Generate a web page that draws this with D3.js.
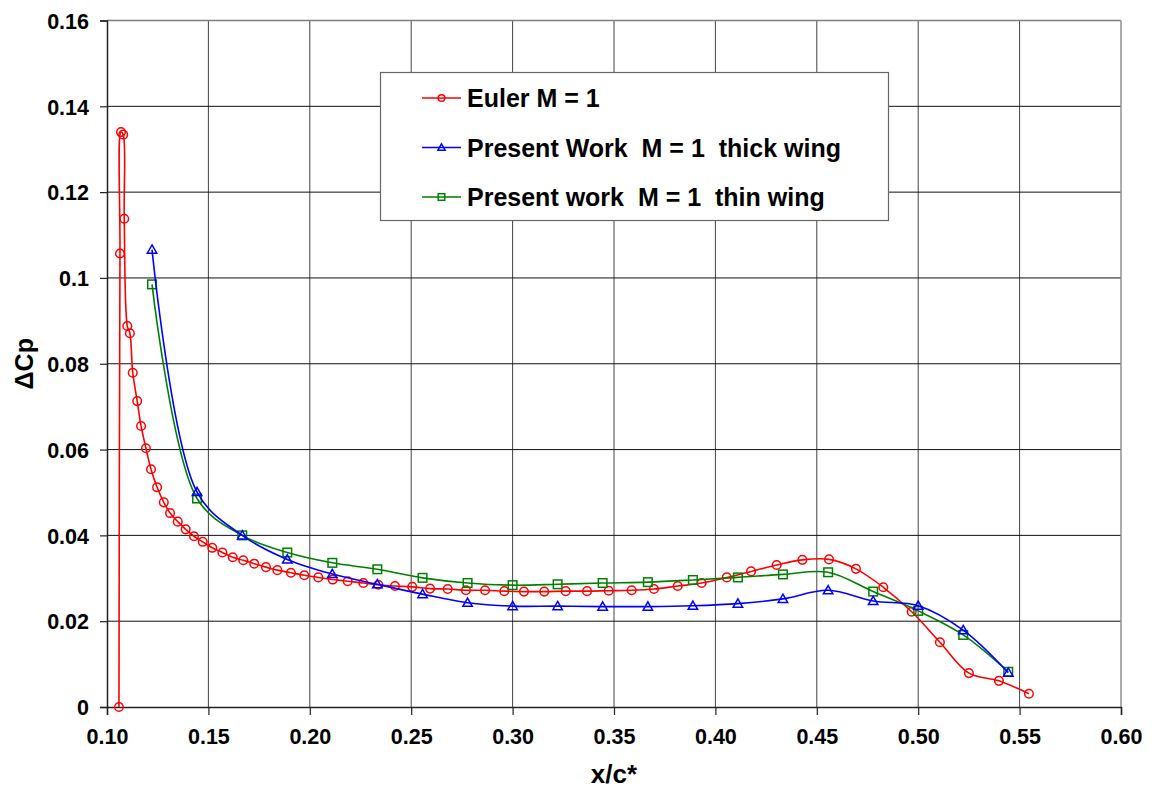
<!DOCTYPE html>
<html>
<head>
<meta charset="utf-8">
<script src="https://cdn.jsdelivr.net/npm/d3@7"></script>
<style>
  body { margin: 0; background: #fff; }
  svg { display: block; }
  text { font-family: "Liberation Sans", Arial, sans-serif; font-weight: bold; fill: #000; white-space: pre; }
</style>
</head>
<body>
<svg id="chart"></svg>
<script>
// Euler M = 1 (red circles)
const eulerX = [0.1059, 0.1064, 0.1069, 0.1080, 0.1085, 0.1100, 0.1113, 0.1127, 0.1149, 0.1168,
  0.1192, 0.1217, 0.1247, 0.1280, 0.1311, 0.1349, 0.1388, 0.1429, 0.1472, 0.1519,
  0.1569, 0.1620, 0.1672, 0.1726, 0.1784, 0.1840, 0.1907, 0.1973, 0.2042, 0.2113,
  0.2187, 0.2264, 0.2338, 0.2420, 0.2505, 0.2593, 0.2680, 0.2770, 0.2864, 0.2959,
  0.3056, 0.3156, 0.3262, 0.3367, 0.3474, 0.3587, 0.3697, 0.3814, 0.3932, 0.4056,
  0.4176, 0.4302, 0.4429, 0.4560, 0.4693, 0.4828, 0.4968, 0.5107, 0.5250, 0.5398, 0.5546];
const eulerY = [0, 0.1057, 0.1340, 0.1334, 0.1138, 0.0888, 0.0871, 0.0779, 0.0713, 0.0655,
  0.0603, 0.0554, 0.0512, 0.0477, 0.0452, 0.0432, 0.0414, 0.0398, 0.0385, 0.0371,
  0.0360, 0.0349, 0.0342, 0.0334, 0.0326, 0.0319, 0.0313, 0.0307, 0.0302, 0.0297,
  0.0293, 0.0289, 0.0285, 0.0282, 0.0280, 0.0276, 0.0275, 0.0272, 0.0272, 0.0270,
  0.0269, 0.0269, 0.0270, 0.0270, 0.0271, 0.0272, 0.0275, 0.0282, 0.0289, 0.0302,
  0.0316, 0.0331, 0.0343, 0.0344, 0.0322, 0.0279, 0.0222, 0.0151, 0.0079, 0.0061, 0.0031];

// Present work stations (same for thick and thin wing)
const workX = [0.1222, 0.1444, 0.1667, 0.1889, 0.2111, 0.2333, 0.2556, 0.2778, 0.3000, 0.3222,
  0.3444, 0.3667, 0.3889, 0.4111, 0.4333, 0.4556, 0.4778, 0.5000, 0.5222, 0.5444];
const thickY = [0.1066, 0.0501, 0.0400, 0.0344, 0.0310, 0.0286, 0.0263, 0.0243, 0.0235, 0.0235,
  0.0234, 0.0234, 0.0236, 0.0241, 0.0252, 0.0272, 0.0247, 0.0236, 0.0179, 0.0080];
const thinY = [0.0985, 0.0486, 0.0400, 0.0360, 0.0336, 0.0321, 0.0301, 0.0289, 0.0284, 0.0286,
  0.0289, 0.0291, 0.0296, 0.0302, 0.0309, 0.0314, 0.0269, 0.0224, 0.0168, 0.0082];

const xTicks = [0.10, 0.15, 0.20, 0.25, 0.30, 0.35, 0.40, 0.45, 0.50, 0.55, 0.60];
const yTicks = [0, 0.02, 0.04, 0.06, 0.08, 0.1, 0.12, 0.14, 0.16];

const series = [
  { name: "Euler M = 1", xs: eulerX, ys: eulerY, color: "#ff0000", marker: "circle" },
  { name: "Present work  M = 1  thin wing", xs: workX, ys: thinY, color: "#008000", marker: "square" },
  { name: "Present Work  M = 1  thick wing", xs: workX, ys: thickY, color: "#0000ff", marker: "triangle" }
];
const legendOrder = [0, 2, 1];

const width = 1155, height = 799;
const margin = { top: 20.5, right: 34, bottom: 92, left: 107 };

const svg = d3.select("#chart").attr("width", width).attr("height", height);

const x = d3.scaleLinear().domain([0.10, 0.60]).range([margin.left, width - margin.right]);
const y = d3.scaleLinear().domain([0, 0.16]).range([height - margin.bottom, margin.top]);

// Grid
svg.append("g").selectAll("line")
  .data(xTicks.slice(1, -1))
  .enter().append("line")
  .attr("x1", d => x(d)).attr("x2", d => x(d))
  .attr("y1", y(0.16)).attr("y2", y(0))
  .attr("stroke", "#444").attr("stroke-width", 1);

svg.append("g").selectAll("line")
  .data(yTicks.slice(1, -1))
  .enter().append("line")
  .attr("x1", x(0.10)).attr("x2", x(0.60))
  .attr("y1", d => y(d)).attr("y2", d => y(d))
  .attr("stroke", "#111").attr("stroke-width", 1);

// Plot border (top/right grey)
svg.append("line").attr("x1", x(0.10)).attr("x2", x(0.60)).attr("y1", y(0.16)).attr("y2", y(0.16))
  .attr("stroke", "#808080").attr("stroke-width", 1.5);
svg.append("line").attr("x1", x(0.60)).attr("x2", x(0.60)).attr("y1", y(0.16)).attr("y2", y(0))
  .attr("stroke", "#909090").attr("stroke-width", 1.5);

// Axes
const xAxis = svg.append("g")
  .attr("transform", `translate(0,${y(0)})`)
  .call(d3.axisBottom(x).tickValues(xTicks).tickFormat(d3.format(".2f")).tickSize(8).tickPadding(14));
const yAxis = svg.append("g")
  .attr("transform", `translate(${x(0.10)},0)`)
  .call(d3.axisLeft(y).tickValues(yTicks).tickFormat(d => d === 0 ? "0" : String(+d.toFixed(2))).tickSize(7).tickPadding(11));

[xAxis, yAxis].forEach(g => {
  g.select(".domain").attr("stroke", "#222").attr("stroke-width", 1.5);
  g.selectAll(".tick line").attr("stroke", "#222").attr("stroke-width", 1.2);
  g.selectAll(".tick text").attr("font-size", "21.5px").attr("font-family", "Liberation Sans, Arial, sans-serif")
    .attr("font-weight", "bold").attr("fill", "#000");
});
yAxis.selectAll(".tick text").attr("dy", "0.36em");

// Axis titles
svg.append("text")
  .attr("x", (x(0.10) + x(0.60)) / 2).attr("y", 783)
  .attr("text-anchor", "middle").attr("font-size", "26px")
  .text("x/c*");

svg.append("text")
  .attr("transform", `translate(33,${(y(0) + y(0.16)) / 2}) rotate(-90)`)
  .attr("text-anchor", "middle").attr("font-size", "25px")
  .text("ΔCp");

// Lines and markers
const line = d3.line().curve(d3.curveCatmullRom.alpha(0.5));

function drawMarker(g, type, cx, cy, color, s) {
  if (type === "circle") {
    g.append("circle").attr("cx", cx).attr("cy", cy).attr("r", s)
      .attr("fill", "none").attr("stroke", color).attr("stroke-width", 1.5);
  } else if (type === "square") {
    g.append("rect").attr("x", cx - s).attr("y", cy - s).attr("width", 2 * s).attr("height", 2 * s)
      .attr("fill", "none").attr("stroke", color).attr("stroke-width", 1.5);
  } else {
    const h = s * 1.1;
    g.append("path")
      .attr("d", `M${cx},${cy - h}L${cx + s * 1.1},${cy + h * 0.75}L${cx - s * 1.1},${cy + h * 0.75}Z`)
      .attr("fill", "none").attr("stroke", color).attr("stroke-width", 1.5);
  }
}

series.forEach(s => {
  const pts = s.xs.map((v, i) => [x(v), y(s.ys[i])]);
  svg.append("path")
    .attr("d", line(pts))
    .attr("fill", "none").attr("stroke", s.color).attr("stroke-width", 1.6);
  const g = svg.append("g");
  pts.forEach(p => drawMarker(g, s.marker, p[0], p[1], s.color, 4.3));
});

// Legend
const legend = svg.append("g");
legend.append("rect").attr("x", 380.5).attr("y", 72.5).attr("width", 508).attr("height", 148)
  .attr("fill", "#fff").attr("stroke", "#666").attr("stroke-width", 1.2);
legendOrder.forEach((idx, i) => {
  const s = series[idx];
  const cy = 98 + i * 49.5;
  legend.append("line").attr("x1", 422).attr("x2", 461).attr("y1", cy).attr("y2", cy)
    .attr("stroke", s.color).attr("stroke-width", 1.6);
  drawMarker(legend, s.marker, 441.5, cy, s.color, 3.3);
  legend.append("text").attr("x", 467).attr("y", cy + 9).attr("font-size", "25px")
    .attr("xml:space", "preserve").text(s.name);
});
</script>
</body>
</html>
